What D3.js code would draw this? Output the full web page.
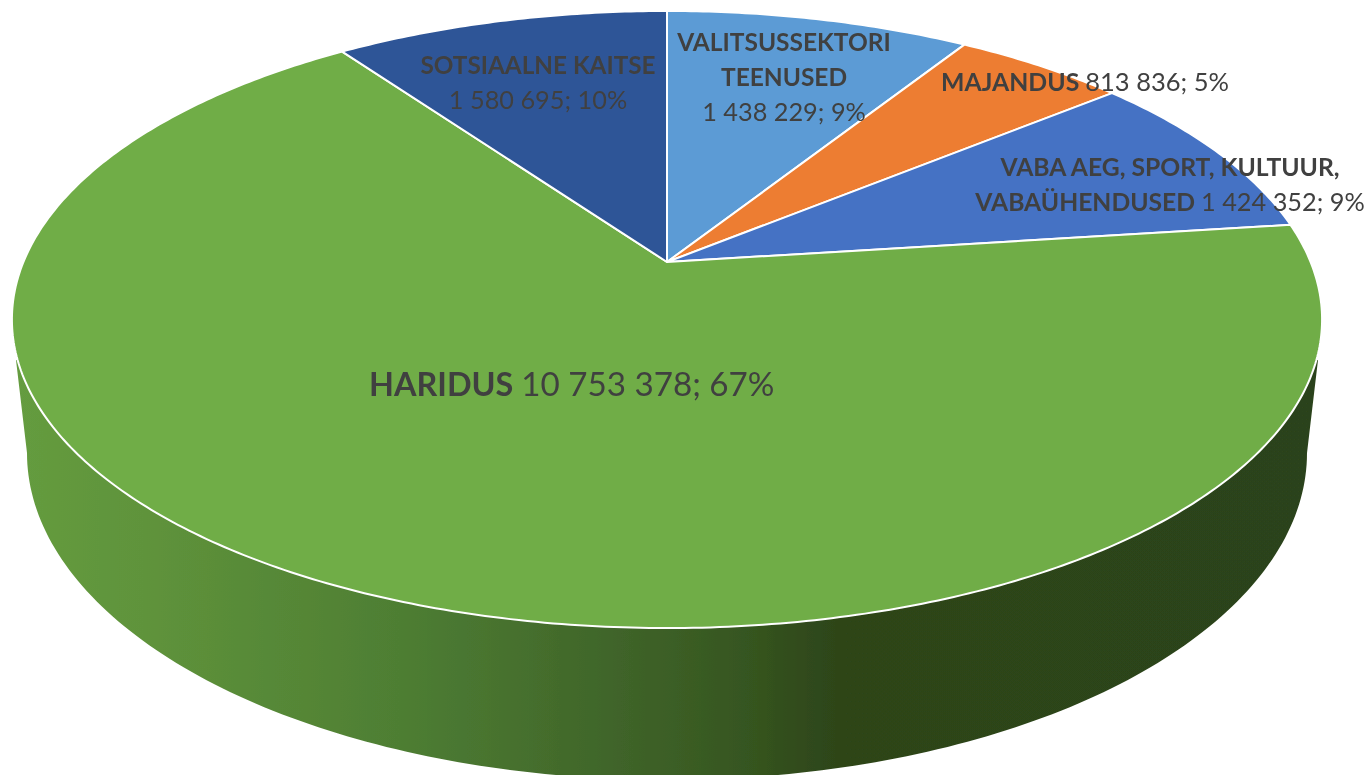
<!DOCTYPE html>
<html>
<head>
<meta charset="utf-8">
<script src="https://cdnjs.cloudflare.com/ajax/libs/d3/7.8.5/d3.min.js"></script>
<style>
  html, body { margin: 0; padding: 0; background: #fff; overflow: hidden; }
  text { font-family: Lato, "Open Sans", sans-serif; fill: #404040; }
  .cat { font-weight: 700; }
</style>
</head>
<body>
<script>
const categories = ['VALITSUSSEKTORI TEENUSED', 'MAJANDUS', 'VABA AEG, SPORT, KULTUUR, VABAÜHENDUSED', 'HARIDUS', 'SOTSIAALNE KAITSE']
const values = [1438229, 813836, 1424352, 10753378, 1580695]
const percents = [9, 5, 9, 67, 10]
const colors = ['#5b9bd5', '#ed7d31', '#4472c4', '#70ad47', '#2f5597']

const width = 1371
const height = 775

// how each label is broken up and placed
const labelLayout = [
  {x: 784, y: 51, size: 24.5, valueSize: 25.3, anchor: 'middle', gap: 35, lines: [['VALITSUSSEKTORI'], ['TEENUSED'], [null, 'value']]},
  {x: 941, y: 91, size: 24.8, valueSize: 25.5, anchor: 'start', gap: 0, lines: [['MAJANDUS', 'value']]},
  {x: 1170, y: 176, size: 24.7, valueSize: 25.3, anchor: 'middle', gap: 35, lines: [['VABA AEG, SPORT, KULTUUR,'], ['VABAÜHENDUSED', 'value']]},
  {x: 369, y: 396, size: 32.4, valueSize: 33.2, anchor: 'start', gap: 0, lines: [['HARIDUS', 'value']]},
  {x: 538, y: 74, size: 24.3, valueSize: 25.3, anchor: 'middle', gap: 35, lines: [['SOTSIAALNE KAITSE'], [null, 'value']]}
]

const numFormat = d3.formatLocale({decimal: ',', thousands: ' ', grouping: [3], currency: ['', '']}).format(',d')

const svg = d3.select('body').append('svg')
  .attr('width', width)
  .attr('height', height)

// top face is a circle seen in perspective, its centre lands at (667, 262)
const cx = 667
const cy = 262
const scaleU = 643.6
const scaleV = 249
const persp = 0.1864

function project(angle, r) {
  const u = r * Math.sin(angle)
  const v = -r * Math.cos(angle)
  const w = 1 - persp * v
  return [cx + scaleU * u / w, (cy + scaleV * v) / w]
}

// side wall: bottom ellipse plus the two silhouette lines
const bottom = {cx: 667, cy: 453, rx: 640, ry: 327}
const wallTop = {y: 360, left: 16, right: 1318}

const defs = svg.append('defs')
const grad = defs.append('linearGradient')
  .attr('id', 'wall')
  .attr('gradientUnits', 'userSpaceOnUse')
  .attr('x1', 15).attr('x2', 1318)
  .attr('y1', 0).attr('y2', 0)
const wallStops = [[0, '#659c3f'], [0.1, '#5f933b'], [0.295, '#4e7e33'], [0.464, '#3f6429'], [0.56, '#365620'], [0.63, '#2d4519'], [1, '#2c431a']]
grad.selectAll('stop')
  .data(wallStops)
  .enter()
  .append('stop')
  .attr('offset', d => d[0])
  .attr('stop-color', d => d[1])

// the reference is a slightly soft screenshot
defs.append('filter')
  .attr('id', 'soft')
  .append('feGaussianBlur')
  .attr('stdDeviation', 0.45)

const root = svg.append('g').attr('filter', 'url(#soft)')

const wallPts = [[wallTop.left, wallTop.y]]
d3.range(0, 181).reverse().forEach(a => {
  const t = a * Math.PI / 180
  wallPts.push([bottom.cx + bottom.rx * Math.cos(t), bottom.cy + bottom.ry * Math.sin(t)])
})
wallPts.push([wallTop.right, wallTop.y])

root.append('path')
  .attr('d', d3.line()(wallPts) + 'Z')
  .attr('fill', 'url(#wall)')

// slices
const pie = d3.pie().sort(null)
const arcs = pie(values)

function slicePath(d) {
  const n = Math.ceil((d.endAngle - d.startAngle) * 90)
  const pts = [[cx, cy]]
  d3.range(n + 1).forEach(i => {
    pts.push(project(d.startAngle + (d.endAngle - d.startAngle) * i / n, 1))
  })
  return d3.line()(pts) + 'Z'
}

root.append('g').selectAll('path')
  .data(arcs)
  .enter()
  .append('path')
  .attr('d', slicePath)
  .attr('fill', (d, i) => colors[i])
  .attr('stroke', '#fff')
  .attr('stroke-width', 2)
  .attr('stroke-linejoin', 'round')

// labels
const labels = root.append('g')
labelLayout.forEach((l, i) => {
  const text = labels.append('text')
    .attr('x', l.x)
    .attr('y', l.y)
    .attr('text-anchor', l.anchor)
    .style('font-size', l.size + 'px')
  const valueText = numFormat(values[i]) + '; ' + percents[i] + '%'
  l.lines.forEach((line, j) => {
    let first = true
    const place = sel => {
      if (first) {
        sel.attr('x', l.x).attr('dy', j === 0 ? 0 : l.gap)
        first = false
      }
      return sel
    }
    if (line[0]) {
      place(text.append('tspan').attr('class', 'cat')).text(line[0] + (line[1] ? ' ' : ''))
    }
    if (line[1]) {
      place(text.append('tspan')).style('font-size', l.valueSize + 'px').text(valueText)
    }
  })
})
</script>
</body>
</html>
